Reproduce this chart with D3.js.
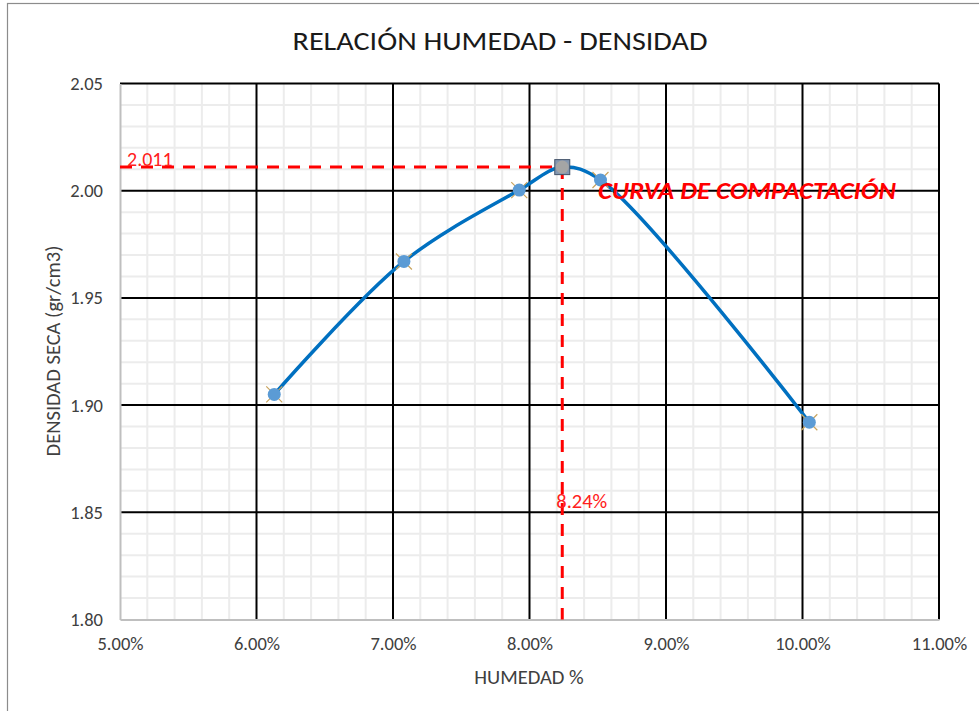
<!DOCTYPE html>
<html lang="es">
<head>
<meta charset="UTF-8">
<title>Relación humedad - densidad</title>
<style>
  body { margin: 0; background: #fff; }
  text { font-family: Carlito, "Open Sans", sans-serif; }
</style>
</head>
<body>
<svg width="979" height="711"></svg>
<script src="https://d3js.org/d3.v7.min.js"></script>
<script>
// datos del ensayo proctor
var humedad = [6.13, 7.08, 7.925, 8.52, 10.05];      // %
var densidad = [1.905, 1.967, 2.0003, 2.005, 1.892]; // gr/cm3
var humedadOptima = 8.24;
var densidadMaxima = 2.011;
var xTicks = [5, 6, 7, 8, 9, 10, 11];
var yTicks = [1.80, 1.85, 1.90, 1.95, 2.00, 2.05];

var svg = d3.select("svg");
var plot = {left: 120, right: 939, top: 83.5, bottom: 619.5};

var x = d3.scaleLinear().domain([5, 11]).range([plot.left, plot.right]);
var y = d3.scaleLinear().domain([1.80, 2.05]).range([plot.bottom, plot.top]);

// marco del grafico
svg.append("rect")
  .attr("x", 7.5).attr("y", 3.5).attr("width", 990).attr("height", 720)
  .attr("fill", "none").attr("stroke", "#8c8c8c").attr("stroke-width", 1.2);

// titulo
svg.append("text")
  .attr("x", 500).attr("y", 50)
  .attr("text-anchor", "middle")
  .attr("font-size", 27)
  .attr("textLength", 415).attr("lengthAdjust", "spacingAndGlyphs")
  .attr("fill", "#1a1a1a")
  .text("RELACIÓN HUMEDAD - DENSIDAD");

var grid = svg.append("g");

// rejilla menor
var xMinor = d3.range(5, 11.001, 0.2).filter(function(v){ return Math.abs(v - Math.round(v)) > 0.01; });
var yMinor = d3.range(1.80, 2.0501, 0.01).filter(function(v){ return Math.abs(v*20 - Math.round(v*20)) > 0.01; });

grid.selectAll(".xminor").data(xMinor).enter().append("line")
  .attr("x1", function(d){ return x(d); }).attr("x2", function(d){ return x(d); })
  .attr("y1", plot.top).attr("y2", plot.bottom)
  .attr("stroke", "#ececec").attr("stroke-width", 2);
grid.selectAll(".yminor").data(yMinor).enter().append("line")
  .attr("y1", function(d){ return y(d); }).attr("y2", function(d){ return y(d); })
  .attr("x1", plot.left).attr("x2", plot.right)
  .attr("stroke", "#ececec").attr("stroke-width", 2);

// rejilla mayor
grid.selectAll(".xmajor").data(xTicks.slice(1)).enter().append("line")
  .attr("x1", function(d){ return x(d); }).attr("x2", function(d){ return x(d); })
  .attr("y1", plot.top).attr("y2", plot.bottom)
  .attr("stroke", "#000").attr("stroke-width", 2);
grid.selectAll(".ymajor").data(yTicks.slice(1)).enter().append("line")
  .attr("y1", function(d){ return y(d); }).attr("y2", function(d){ return y(d); })
  .attr("x1", plot.left).attr("x2", plot.right)
  .attr("stroke", "#000").attr("stroke-width", 2);

// ejes
svg.append("g")
  .attr("transform", "translate(0," + plot.bottom + ")")
  .call(d3.axisBottom(x).tickValues(xTicks).tickSize(0).tickPadding(17)
    .tickFormat(function(d){ return d3.format(".2f")(d) + "%"; }))
  .call(function(g){
    g.select(".domain").attr("stroke", "#bfbfbf").attr("stroke-width", 2);
    g.selectAll("text").attr("font-size", 18.5).attr("fill", "#404040")
      .attr("font-family", 'Carlito, "Open Sans", sans-serif');
  });

svg.append("g")
  .attr("transform", "translate(" + plot.left + ",0)")
  .call(d3.axisLeft(y).tickValues(yTicks).tickSize(0).tickPadding(17)
    .tickFormat(d3.format(".2f")))
  .call(function(g){
    g.select(".domain").attr("stroke", "#bfbfbf").attr("stroke-width", 2);
    g.selectAll("text").attr("font-size", 18.5).attr("fill", "#404040")
      .attr("font-family", 'Carlito, "Open Sans", sans-serif');
  });

// titulos de ejes
svg.append("text")
  .attr("x", 529).attr("y", 684)
  .attr("text-anchor", "middle").attr("font-size", 20.5).attr("fill", "#404040")
  .text("HUMEDAD %");

svg.append("text")
  .attr("transform", "translate(60,351) rotate(-90)")
  .attr("text-anchor", "middle").attr("font-size", 20.5).attr("fill", "#404040")
  .text("DENSIDAD SECA (gr/cm3)");

// lineas de densidad maxima / humedad optima
svg.append("line")
  .attr("x1", plot.left).attr("x2", x(humedadOptima))
  .attr("y1", y(densidadMaxima)).attr("y2", y(densidadMaxima))
  .attr("stroke", "#ff0000").attr("stroke-width", 3).attr("stroke-dasharray", "12,9");
svg.append("line")
  .attr("x1", x(humedadOptima)).attr("x2", x(humedadOptima))
  .attr("y1", y(densidadMaxima)).attr("y2", plot.bottom)
  .attr("stroke", "#ff0000").attr("stroke-width", 3).attr("stroke-dasharray", "12,9");

svg.append("text")
  .attr("x", 127).attr("y", y(densidadMaxima) - 1)
  .attr("font-size", 20).attr("fill", "#ff2020")
  .text(d3.format(".3f")(densidadMaxima));

svg.append("text")
  .attr("x", x(humedadOptima) - 6).attr("y", 508)
  .attr("font-size", 20.5).attr("fill", "#ff2020")
  .text(humedadOptima.toFixed(2) + "%");

// curva suavizada
var puntosCurva = humedad.map(function(h, i){ return [h, densidad[i]]; });
puntosCurva.push([humedadOptima, densidadMaxima]);
puntosCurva.sort(function(a, b){ return a[0] - b[0]; });

var linea = d3.line()
  .x(function(d){ return x(d[0]); })
  .y(function(d){ return y(d[1]); })
  .curve(d3.curveCatmullRom.alpha(0.5));

svg.append("path")
  .datum(puntosCurva)
  .attr("d", linea)
  .attr("fill", "none").attr("stroke", "#0070c0").attr("stroke-width", 3.5);

// marcadores
var pts = svg.append("g").selectAll("g")
  .data(humedad.map(function(h, i){ return {h: h, d: densidad[i]}; }))
  .enter().append("g")
  .attr("transform", function(d){ return "translate(" + x(d.h) + "," + y(d.d) + ")"; });

pts.append("path")
  .attr("d", "M-8,-8L8,8M-8,8L8,-8")
  .attr("stroke", "#c9a45e").attr("stroke-width", 1.2);
pts.append("circle")
  .attr("r", 6.5).attr("fill", "#5b9bd5");

// punto optimo
var opt = svg.append("g")
  .attr("transform", "translate(" + x(humedadOptima) + "," + y(densidadMaxima) + ")");
opt.append("rect")
  .attr("x", -7.5).attr("y", -7.5).attr("width", 15).attr("height", 15)
  .attr("fill", "#8497b0").attr("stroke", "#44546a").attr("stroke-width", 1);
opt.append("circle")
  .attr("r", 6.5).attr("fill", "#a5a5a5");

// rotulo
svg.append("text")
  .attr("x", 598).attr("y", 199)
  .attr("font-size", 24).attr("font-weight", "bold").attr("font-style", "italic")
  .attr("textLength", 298).attr("lengthAdjust", "spacingAndGlyphs")
  .attr("fill", "#ff0000")
  .text("CURVA DE COMPACTACIÓN");
</script>
</body>
</html>
